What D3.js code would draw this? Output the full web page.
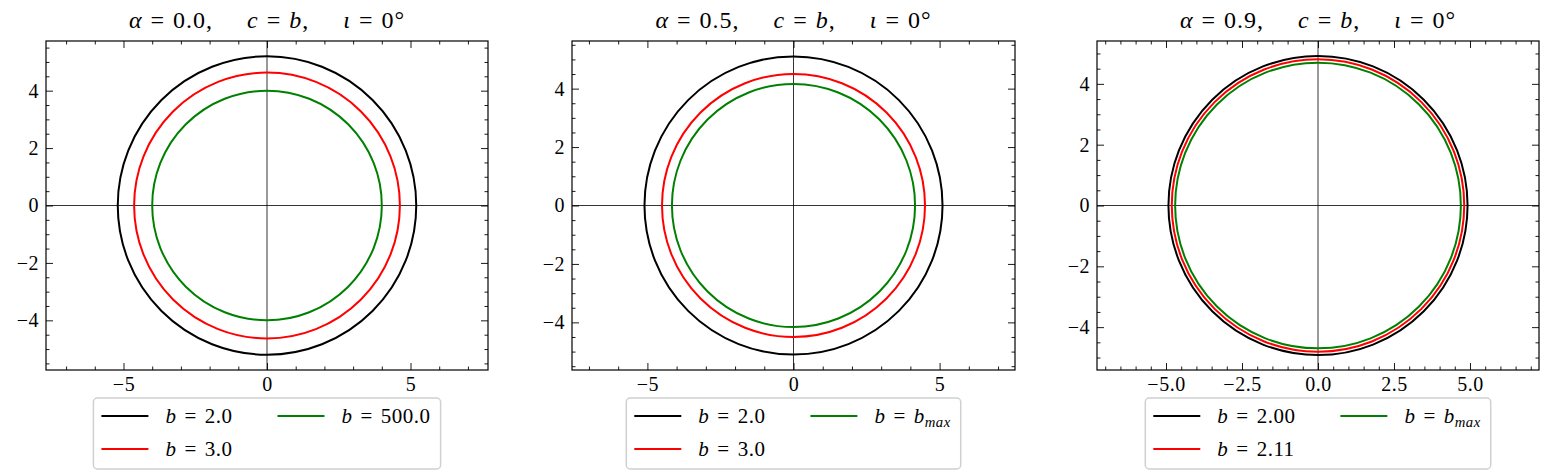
<!DOCTYPE html>
<html>
<head>
<meta charset="utf-8">
<script src="https://cdn.jsdelivr.net/npm/d3@7"></script>
<style>
  body { margin: 0; background: #fff; }
  svg text { font-family: "Liberation Serif", "DejaVu Serif", serif; fill: #000; }
</style>
</head>
<body>
<div id="chart"></div>
<script>
// Values
var alphas = ["0.0", "0.5", "0.9"];
var seriesColors = ["black", "red", "green"];
var labels1 = ["2.0", "3.0", "500.0"];
var labels2 = ["2.0", "3.0", "max"];
var labels3 = ["2.00", "2.11", "max"];
var radii1 = [5.20, 4.63, 4.00];
var radii2 = [5.10, 4.50, 4.16];
var radii3 = [4.92, 4.81, 4.70];
var xMajor1 = [-5, 0, 5];
var xMajor3 = [-5, -2.5, 0, 2.5, 5];
var yMajor = [-4, -2, 0, 2, 4];

var W = 1546, H = 474;
var svg = d3.select("#chart").append("svg")
    .attr("width", W)
    .attr("height", H);

// plot boxes and ranges of each panel
var panels = [
    { left: 46, right: 488, xExt: 7.7, yExt: 5.73, radii: radii1, labels: labels1,
      xMajor: xMajor1, xMinorStep: 1, xFmt: d => d3.format("d")(d) },
    { left: 572, right: 1015, xExt: 7.58, yExt: 5.63, radii: radii2, labels: labels2,
      xMajor: xMajor1, xMinorStep: 1, xFmt: d => d3.format("d")(d) },
    { left: 1097, right: 1539, xExt: 7.27, yExt: 5.41, radii: radii3, labels: labels3,
      xMajor: xMajor3, xMinorStep: 0.5, xFmt: d => d3.format(".1f")(d) }
];
var plotTop = 41, plotBottom = 370;

function fixMinus(s) { return String(s).replace("-", "\u2212"); }

function range(a, b, step) {
    var out = [];
    for (var v = Math.ceil(a / step) * step; v <= b + 1e-9; v += step) out.push(+v.toFixed(4));
    return out;
}

// math-ish "lhs = rhs" with wider spacing round the equals sign
function addEq(t, gap) {
    t.append("tspan").attr("dx", gap).text("=");
    return t.append("tspan").attr("dx", gap);
}

// "b = value" style label, with b_max as subscript
function legendText(t, val, size) {
    t.append("tspan").style("font-style", "italic").text("b");
    var rhs = addEq(t, 8);
    if (val === "max") {
        rhs.style("font-style", "italic").text("b");
        t.append("tspan").style("font-style", "italic").style("font-size", (size * 0.7) + "px")
            .attr("dy", 4).text("max");
    } else {
        rhs.text(val);
    }
}

panels.forEach(function(p, i) {
    var x = d3.scaleLinear().domain([-p.xExt, p.xExt]).range([p.left, p.right]);
    var y = d3.scaleLinear().domain([-p.yExt, p.yExt]).range([plotBottom, plotTop]);
    var g = svg.append("g");

    var xMinor = range(-p.xExt, p.xExt, p.xMinorStep).filter(v => p.xMajor.indexOf(v) < 0);
    var yMinor = range(-p.yExt, p.yExt, 0.5).filter(v => yMajor.indexOf(v) < 0);

    // zero lines
    g.append("line").attr("x1", p.left).attr("x2", p.right)
        .attr("y1", y(0)).attr("y2", y(0)).attr("stroke", "black").attr("stroke-width", 0.8);
    g.append("line").attr("x1", x(0)).attr("x2", x(0))
        .attr("y1", plotTop).attr("y2", plotBottom).attr("stroke", "black").attr("stroke-width", 0.8);

    // shadow curves
    g.selectAll("circle.shadow").data(p.radii).enter().append("circle")
        .attr("class", "shadow")
        .attr("cx", x(0)).attr("cy", y(0))
        .attr("r", d => x(d) - x(0))
        .attr("fill", "none")
        .attr("stroke", (d, j) => seriesColors[j])
        .attr("stroke-width", 2);

    // axes: inward ticks on all four sides
    function styleAxis(sel) {
        sel.select(".domain").remove();
        sel.selectAll(".tick line").attr("stroke", "black").attr("stroke-width", 0.9);
        sel.selectAll("text").style("font-size", "20px").style("letter-spacing", "0.5px");
    }
    g.append("g").attr("transform", "translate(0," + plotBottom + ")")
        .call(d3.axisBottom(x).tickValues(p.xMajor).tickSize(-7).tickPadding(7).tickFormat(d => fixMinus(p.xFmt(d))))
        .call(styleAxis);
    g.append("g").attr("transform", "translate(0," + plotBottom + ")")
        .call(d3.axisBottom(x).tickValues(xMinor).tickSize(-3.5).tickFormat(""))
        .call(styleAxis);
    g.append("g").attr("transform", "translate(0," + plotTop + ")")
        .call(d3.axisTop(x).tickValues(p.xMajor).tickSize(-7).tickFormat(""))
        .call(styleAxis);
    g.append("g").attr("transform", "translate(0," + plotTop + ")")
        .call(d3.axisTop(x).tickValues(xMinor).tickSize(-3.5).tickFormat(""))
        .call(styleAxis);
    g.append("g").attr("transform", "translate(" + p.left + ",0)")
        .call(d3.axisLeft(y).tickValues(yMajor).tickSize(-7).tickPadding(7).tickFormat(d => fixMinus(d)))
        .call(styleAxis);
    g.append("g").attr("transform", "translate(" + p.left + ",0)")
        .call(d3.axisLeft(y).tickValues(yMinor).tickSize(-3.5).tickFormat(""))
        .call(styleAxis);
    g.append("g").attr("transform", "translate(" + p.right + ",0)")
        .call(d3.axisRight(y).tickValues(yMajor).tickSize(-7).tickFormat(""))
        .call(styleAxis);
    g.append("g").attr("transform", "translate(" + p.right + ",0)")
        .call(d3.axisRight(y).tickValues(yMinor).tickSize(-3.5).tickFormat(""))
        .call(styleAxis);

    // spines
    g.append("rect").attr("x", p.left).attr("y", plotTop)
        .attr("width", p.right - p.left).attr("height", plotBottom - plotTop)
        .attr("fill", "none").attr("stroke", "black").attr("stroke-width", 1.2);

    // title
    var cx = (p.left + p.right) / 2;
    var title = g.append("text").attr("x", cx).attr("y", 28)
        .attr("text-anchor", "middle").style("font-size", "24px").style("letter-spacing", "1px");
    title.append("tspan").style("font-style", "italic").text("\u03b1");
    addEq(title, 8).text(alphas[i] + ",");
    title.append("tspan").attr("dx", 34).style("font-style", "italic").text("c");
    addEq(title, 8).style("font-style", "italic").text("b");
    title.append("tspan").text(",");
    title.append("tspan").attr("dx", 34).style("font-style", "italic").text("\u03b9");
    addEq(title, 8).text("0\u00b0");

    // legend, two columns
    var fs = 21;
    var leg = g.append("g");
    var box = leg.append("rect");
    var items = leg.selectAll("g.item").data(p.labels).enter().append("g").attr("class", "item");
    items.append("line").attr("stroke", (d, j) => seriesColors[j]).attr("stroke-width", 2);
    items.append("text").attr("x", 0).attr("y", 0).style("font-size", fs + "px")
        .style("letter-spacing", "0.5px")
        .each(function(d) { legendText(d3.select(this), d, fs); });
    var widths = [];
    items.select("text").each(function() { widths.push(this.getBBox().width); });
    var w1 = Math.max(widths[0], widths[1]), w2 = widths[2];
    var col2 = 8 + 47 + 17 + w1 + 45;
    var bw = col2 + 47 + 17 + w2 + 10;
    var bx = cx - bw / 2, by = 398;
    box.attr("x", bx).attr("y", by).attr("width", bw).attr("height", 71)
        .attr("rx", 4).attr("fill", "white").attr("fill-opacity", 0.8)
        .attr("stroke", "#d0d0d0").attr("stroke-width", 1.5);
    items.each(function(d, j) {
        var ox = bx + (j < 2 ? 8 : col2);
        var oy = by + (j === 1 ? 51 : 18);
        var it = d3.select(this);
        it.select("line").attr("x1", ox).attr("x2", ox + 47).attr("y1", oy).attr("y2", oy);
        it.select("text").attr("x", ox + 64).attr("y", oy + 7);
    });
});
</script>
</body>
</html>
